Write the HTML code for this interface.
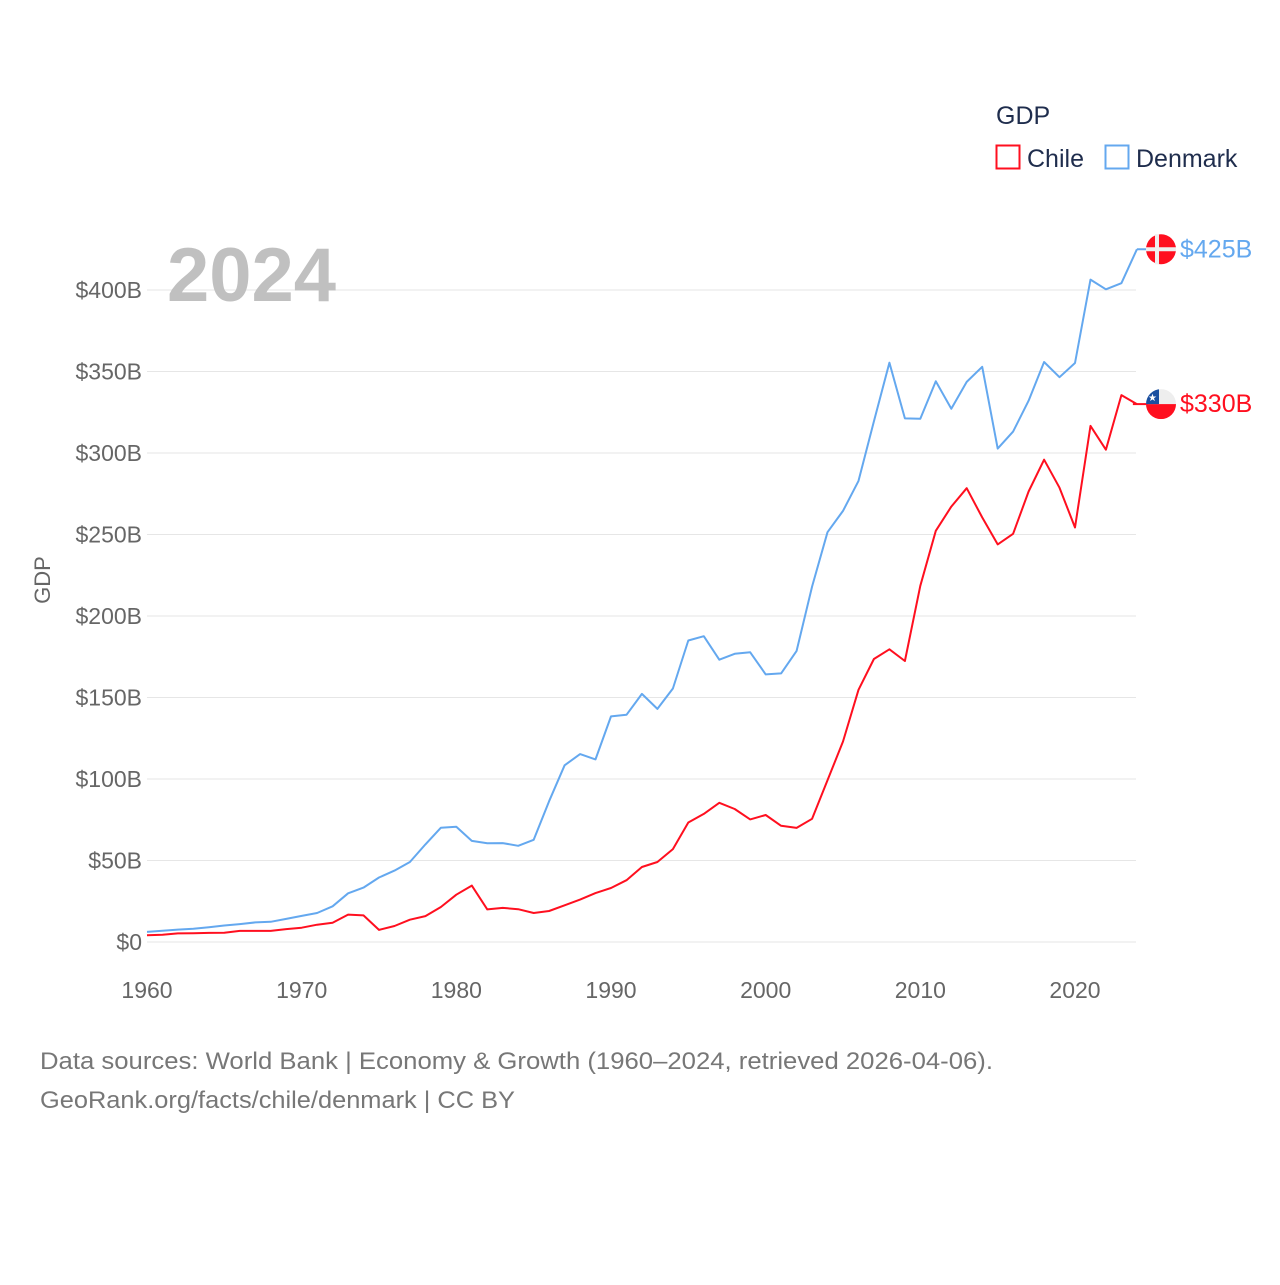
<!DOCTYPE html>
<html><head><meta charset="utf-8"><style>
body{margin:0;background:#fff;font-family:"Liberation Sans",sans-serif;}
svg text{font-family:"Liberation Sans",sans-serif;}
</style></head><body>
<svg id="chart" width="1280" height="1280" xmlns="http://www.w3.org/2000/svg">
<rect width="1280" height="1280" fill="#fff"/>
<g id="grid"></g>
<text x="167" y="301" font-size="76" font-weight="bold" fill="#c0c0c0">2024</text>
<g id="axes"></g>
<g id="lines"></g>
<text transform="translate(50,580) rotate(-90)" text-anchor="middle" font-size="22" fill="#666">GDP</text>
<text x="996" y="124" font-size="25" fill="#1f2d4d">GDP</text>
<g>
<rect x="996.5" y="145.5" width="23" height="23" fill="none" stroke="#ff0f1f" stroke-width="2"/>
<text x="1027" y="167" font-size="25" fill="#1f2d4d">Chile</text></g>
<g>
<rect x="1105.5" y="145.5" width="23" height="23" fill="none" stroke="#64a8ef" stroke-width="2"/>
<text x="1136" y="167" font-size="25" fill="#1f2d4d">Denmark</text></g>
<text x="40" y="1069" font-size="24" fill="#777" textLength="953" lengthAdjust="spacingAndGlyphs">Data sources: World Bank | Economy &amp; Growth (1960–2024, retrieved 2026-04-06).</text>
<text x="40" y="1108" font-size="24" fill="#777" textLength="475" lengthAdjust="spacingAndGlyphs">GeoRank.org/facts/chile/denmark | CC BY</text>
</svg>
<script>
const years = [];for(let y=1960;y<=2024;y++)years.push(y);
const denmark = [6.2,6.9,7.6,8.1,9.1,10.1,11.0,12.0,12.4,14.2,16.0,17.8,21.9,29.9,33.4,39.6,43.8,49.1,59.9,70.1,70.7,62.0,60.6,60.7,59.0,62.7,86.4,108.4,115.3,112.0,138.4,139.4,152.2,143.0,155.5,185.0,187.6,173.2,176.8,177.7,164.2,164.8,178.6,218.1,251.4,264.5,282.9,319.4,355.4,321.2,321.0,344.0,327.1,343.6,352.9,302.7,313.1,332.1,355.8,346.5,355.2,406.4,400.4,404.2,425];
const chile = [4.1,4.5,5.3,5.4,5.6,5.7,6.8,6.8,6.8,7.9,8.8,10.6,11.8,16.8,16.3,7.4,9.8,13.7,15.9,21.5,29.0,34.6,20.0,20.9,20.1,17.8,19.0,22.5,26.0,30.0,33.1,37.9,46.0,49.1,57.0,73.3,78.6,85.4,81.6,75.2,77.9,71.3,70.0,75.6,99.2,123.0,154.7,173.6,179.6,172.4,218.5,252.3,267.1,278.4,260.5,243.9,250.4,276.4,295.9,278.7,254.3,316.6,302.0,335.5,330];
const yTicks = [0,50,100,150,200,250,300,350,400];
const xTicks = [1960,1970,1980,1990,2000,2010,2020];
const X = y => 147 + (y-1960)*(928/60);
const Y = v => 942 - v*1.63;
const NS="http://www.w3.org/2000/svg";
function mk(tag,attrs,parent,txt){const e=document.createElementNS(NS,tag);for(const k in attrs)e.setAttribute(k,attrs[k]);if(txt!==undefined)e.textContent=txt;parent.appendChild(e);return e;}
const grid=document.getElementById('grid'),axes=document.getElementById('axes'),lines=document.getElementById('lines');
yTicks.forEach(v=>{
 const l=mk('line',{x1:147,x2:1136,y1:Y(v),y2:Y(v),stroke:'#e6e6e6','stroke-width':1},grid);
 
 
 const t=mk('text',{x:142,y:Y(v)+8,'text-anchor':'end','font-size':23,fill:'#666'},axes,'$'+v+(v?'B':''));
 
 
});
xTicks.forEach(yr=>{
 const t=mk('text',{x:X(yr),y:998,'text-anchor':'middle','font-size':23,fill:'#666'},axes,yr);
 
 
});
function line(data,color,name){
 const d=data.map((v,i)=>(i?'L':'M')+X(years[i]).toFixed(1)+','+Y(v).toFixed(1)).join('');
 const p=mk('path',{d:d,fill:'none',stroke:color,'stroke-width':2,'stroke-linejoin':'round'},lines);
 
 
}
line(denmark,'#64a8ef','denmark-line');
line(chile,'#ff0f1f','chile-line');
const last=years.length-1;
const dk=mk('g',{},lines);


const dy=Y(denmark[last]);
mk('line',{x1:X(2024),x2:1148,y1:dy,y2:dy,stroke:'#64a8ef','stroke-width':2},dk);
mk('circle',{cx:1161,cy:dy,r:15,fill:'#ff0f1f'},dk);
mk('rect',{x:1146,y:dy-2,width:30,height:4,fill:'#eee'},dk);
mk('rect',{x:1155,y:dy-15,width:4,height:30,fill:'#eee'},dk);
mk('text',{x:1180,y:dy+8,'font-size':25,fill:'#64a8ef'},dk,'$'+denmark[last]+'B');
const cl=mk('g',{},lines);


const cy=Y(chile[last]);
mk('line',{x1:X(2024)-4,x2:1148,y1:cy,y2:cy,stroke:'#ff0f1f','stroke-width':2},cl);
mk('clipPath',{id:'cc'},cl);
mk('circle',{cx:1161,cy:cy,r:15},document.getElementById('cc'));
const cg=mk('g',{'clip-path':'url(#cc)'},cl);
mk('rect',{x:1146,y:cy-15,width:30,height:15,fill:'#eee'},cg);
mk('rect',{x:1146,y:cy,width:30,height:15,fill:'#ff0f1f'},cg);
mk('rect',{x:1146,y:cy-15,width:13,height:15,fill:'#1a4fa0'},cg);
mk('text',{x:1152.5,y:cy-3,'font-size':10,fill:'#fff','text-anchor':'middle'},cg,'★');
mk('text',{x:1180,y:cy+8,'font-size':25,fill:'#ff0f1f'},cl,'$'+chile[last]+'B');
</script>
</body></html>
